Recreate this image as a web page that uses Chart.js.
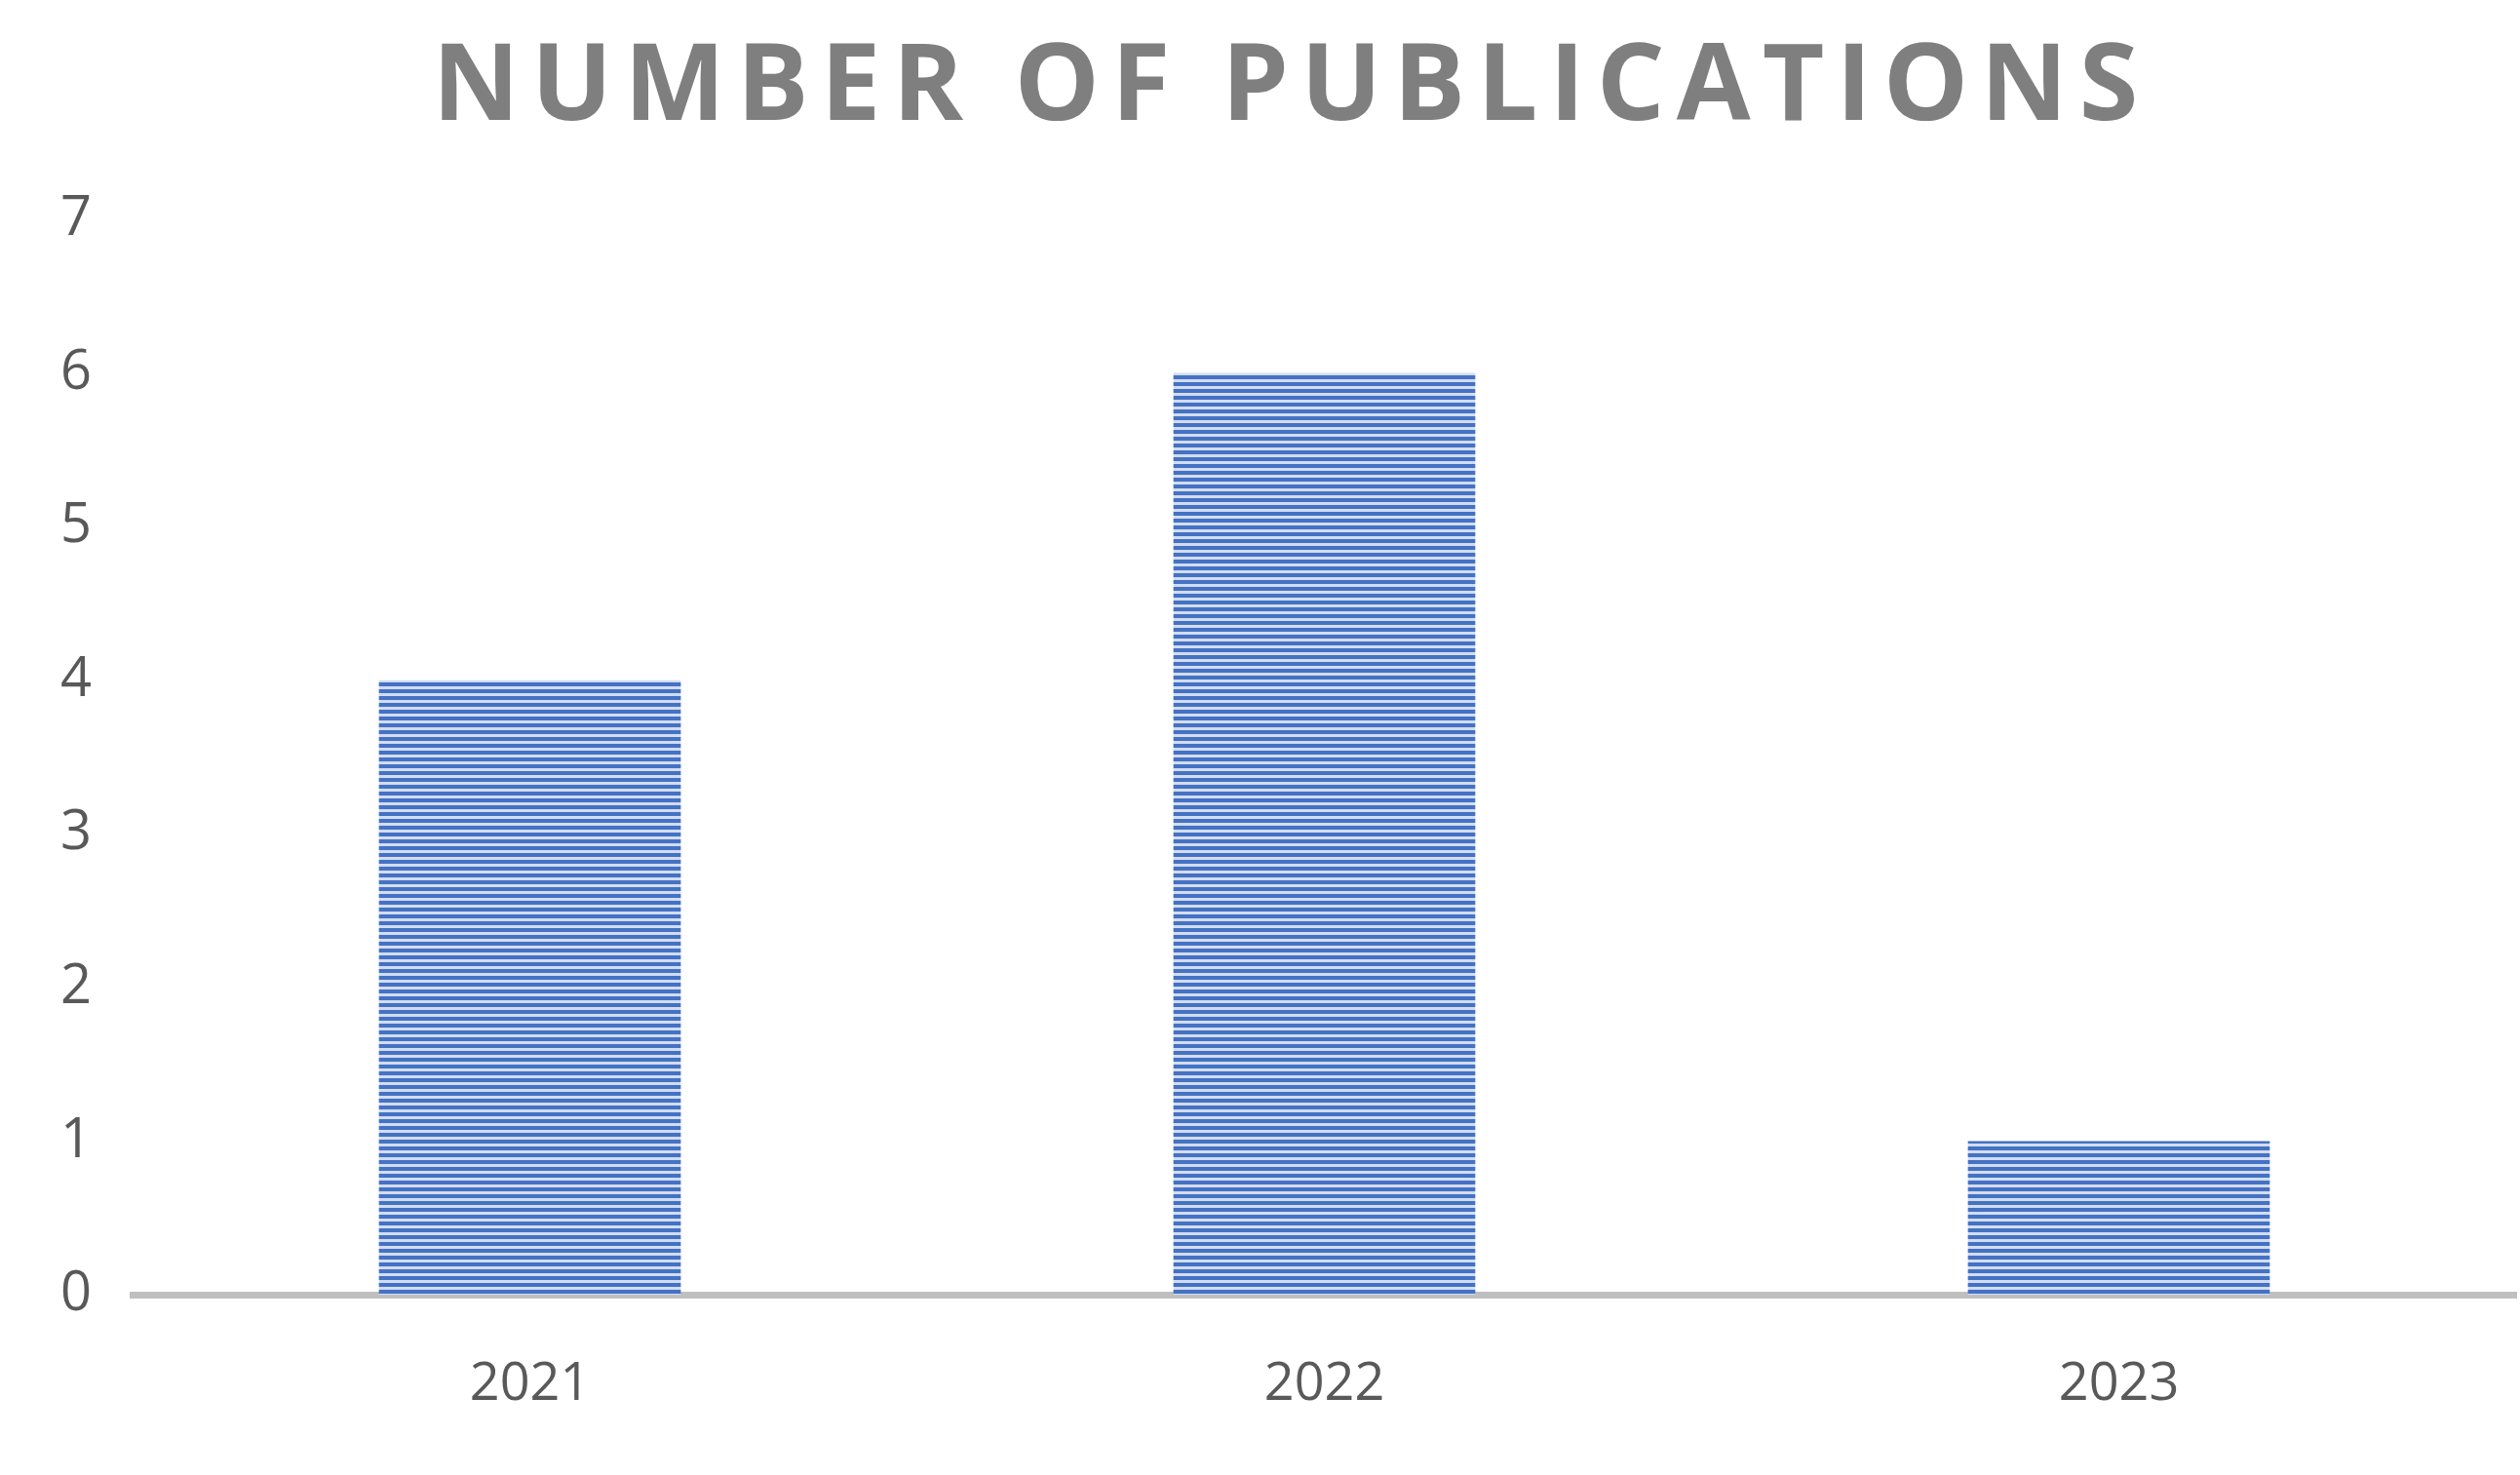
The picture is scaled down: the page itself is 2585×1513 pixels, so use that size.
<!DOCTYPE html>
<html><head><meta charset="utf-8">
<script src="https://cdn.jsdelivr.net/npm/chart.js@4/dist/chart.umd.min.js"></script>
<style>html,body{margin:0;padding:0;background:#fff}#wrap{width:2585px;height:1513px}</style>
</head><body><div id="wrap"><canvas id="c"></canvas></div>
<script>
const categories = ["2021", "2022", "2023"];
const publications = [4, 6, 1];
const yTicks = [0, 1, 2, 3, 4, 5, 6, 7];
const titleText = 'NUMBER OF PUBLICATIONS';

const pc = document.createElement('canvas');
pc.width = 8; pc.height = 7;
const px = pc.getContext('2d');
px.fillStyle = '#d3dcf0'; px.fillRect(0,0,8,7);
px.fillStyle = '#4472c4'; px.fillRect(0,0,8,4);
const pattern = px.createPattern(pc, 'repeat');

const spacedTitle = {
  id: 'spacedTitle',
  afterDraw(chart) {
    const ctx = chart.ctx;
    ctx.save();
    ctx.font = 'bold 110px "Open Sans"';
    ctx.fillStyle = '#7f7f7f';
    ctx.textAlign = 'center';
    ctx.textBaseline = 'middle';
    ctx.letterSpacing = '12px';
    ctx.fillText(titleText, chart.width / 2 + 32, 92);
    ctx.restore();
  }
};

new Chart(document.getElementById('c'), {
  type: 'bar',
  data: { labels: categories, datasets: [{ data: publications, backgroundColor: pattern, borderWidth: 0,
    categoryPercentage: 1, barPercentage: 0.38 }] },
  options: {
    responsive: true, maintainAspectRatio: false, animation: false,
    layout: { padding: { left: 20, right: 4, top: 225, bottom: 0 } },
    plugins: { legend: { display: false }, tooltip: { enabled: false }, title: { display: false } },
    scales: {
      x: { grid: { display: false, drawTicks: false }, border: { display: true, color: '#bfbfbf', width: 7 },
        ticks: { color: '#595959', font: { family: 'Open Sans', size: 54 }, padding: 60 } },
      y: { min: 0, max: 7, grid: { display: false, drawTicks: false }, border: { display: false },
        afterBuildTicks: s => { s.ticks = yTicks.map(v => ({ value: v })); },
        ticks: { color: '#595959', font: { family: 'Open Sans', size: 56 }, padding: 42 } }
    }
  },
  plugins: [spacedTitle]
});
</script></body></html>
